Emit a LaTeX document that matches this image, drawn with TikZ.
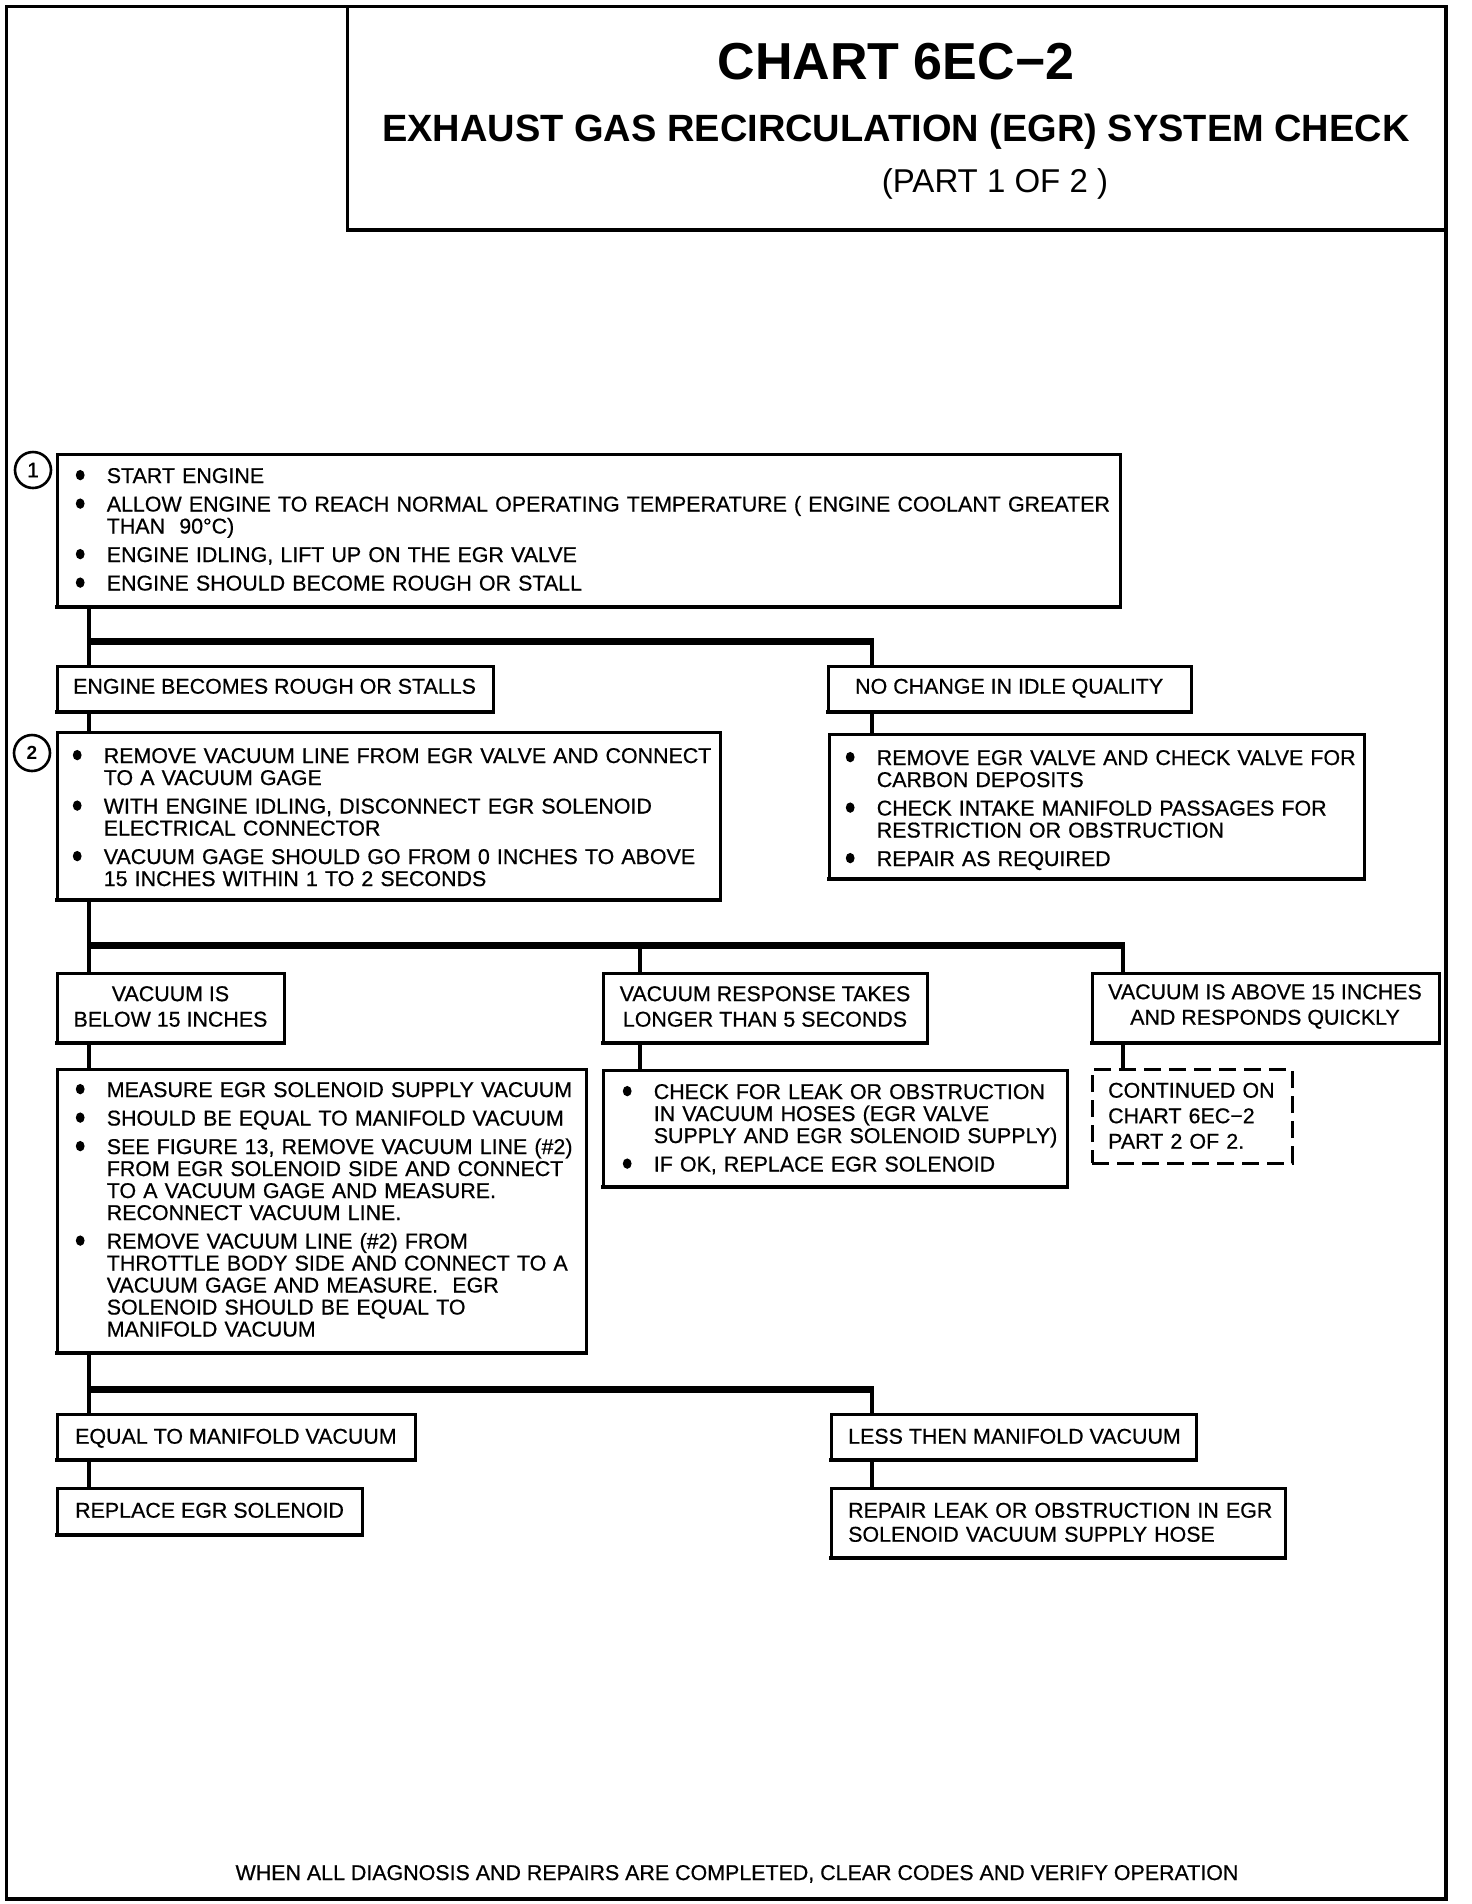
\documentclass[tikz,border=0pt]{standalone}
\usepackage{fontspec}
\setmainfont{Liberation Sans}
\newfontfamily\bodyf{Liberation Sans}[FakeBold=0.6]
\usetikzlibrary{calc}
\newlength\hangw
\setlength\hangw{31pt}
\newcommand\bul{\raisebox{2.7pt}{\tikz\fill (0,0) ellipse [x radius=4.4pt, y radius=5.2pt];}}
\newcommand\bitem[1]{\noindent\hangindent=\hangw\hangafter=1\makebox[\hangw][l]{\bul}#1\par}
\tikzset{
  box/.style={draw, line width=3pt, anchor=north west, inner sep=0pt, outer sep=0pt},
  dbox/.style={box, dash pattern=on 17pt off 8pt},
  vconn/.style={line width=4.5pt},
  bar/.style={line width=7pt},
  body/.style={inner sep=0pt, anchor=base west, align=left, text width=1100pt,
    font=\bodyf\fontsize{21.4}{22}\selectfont,
    execute at begin node={\setlength\parskip{6.5pt}}},
  lbl/.style={inner sep=0pt, anchor=base west, font=\bodyf\fontsize{21.4}{22}\selectfont},
  clbl/.style={inner sep=0pt, align=center, font=\bodyf\fontsize{21.4}{25.5}\selectfont},
  num/.style={circle, draw, line width=2.6pt, minimum size=36pt, inner sep=0pt, font=\bodyf\fontsize{21}{21}\selectfont}
}
\begin{document}
\begin{tikzpicture}[x=1pt, y=-1pt]
\useasboundingbox (0,0) rectangle (1472,1904);
\fill[white] (0,0) rectangle (1472,1904);
% frame
\draw[line width=3pt] (6,6) rectangle (1446,1899);
\draw[line width=4.5pt] (6,1899) -- (1446,1899) -- (1446,6);
% title box
\node[box, minimum width=1099pt, minimum height=224pt] (title) at (347,6) {};
\draw[line width=4pt] (title.south west) -- (title.south east);
\node[inner sep=0pt, anchor=base, font=\bfseries\fontsize{52}{52}\selectfont] (t1) at (896,79.6) {CHART 6EC−2};
\node[inner sep=0pt, anchor=base, font=\bfseries\fontsize{38}{38}\selectfont] (t2) at (896,141.6) {EXHAUST GAS RECIRCULATION (EGR) SYSTEM CHECK};
\node[inner sep=0pt, anchor=base, font=\fontsize{33}{33}\selectfont] (t3) at (995,192.8) {(PART 1 OF 2 )};

% column coordinates
\coordinate (cL) at (89,0);
\coordinate (cM) at (640,0);
\coordinate (cR) at (872,0);
\coordinate (cR2) at (1123,0);
\coordinate (bar1) at (0,641);
\coordinate (bar2) at (0,945);
\coordinate (bar3) at (0,1389);

% boxes
\node[box, minimum width=1063pt, minimum height=153pt] (b1) at (57,454) {};
\node[box, minimum width=436pt, minimum height=46pt] (b2a) at (57,666) {};
\node[box, minimum width=363pt, minimum height=46pt] (b2b) at (828,666) {};
\node[box, minimum width=663pt, minimum height=168pt] (b3) at (57,732) {};
\node[box, minimum width=535pt, minimum height=145pt] (b4) at (829,734) {};
\node[box, minimum width=227pt, minimum height=70pt] (b5a) at (57,973) {};
\node[box, minimum width=324pt, minimum height=70pt] (b5b) at (603,973) {};
\node[box, minimum width=347pt, minimum height=70pt] (b5c) at (1092,973) {};
\node[box, minimum width=529pt, minimum height=284pt] (b6) at (57,1069) {};
\node[box, minimum width=464pt, minimum height=117pt] (b7) at (603,1070) {};
\node[dbox, minimum width=200pt, minimum height=94pt] (b8) at (1092,1069) {};
\node[box, minimum width=358pt, minimum height=46pt] (b9a) at (57,1414) {};
\node[box, minimum width=365pt, minimum height=46pt] (b9b) at (831,1414) {};
\node[box, minimum width=305pt, minimum height=47pt] (b10a) at (57,1488) {};
\node[box, minimum width=454pt, minimum height=70pt] (b10b) at (831,1488) {};
\foreach \b in {b1,b2a,b2b,b3,b4,b5a,b5b,b5c,b6,b7,b9a,b9b,b10a,b10b}
  \draw[line width=4.5pt, line cap=rect] (\b.south west) -- (\b.south east);

% step numbers
\node[num] (n1) at (33,470) {1};
\node[num, font=\bfseries\fontsize{19}{19}\selectfont] (n2) at (32,753) {2};

% texts
\node[body] (x1) at (75.6,483) {%
\bitem{START ENGINE}
\bitem{ALLOW ENGINE TO REACH NORMAL OPERATING TEMPERATURE ( ENGINE COOLANT GREATER\newline THAN\ \ 90°C)}
\bitem{ENGINE IDLING, LIFT UP ON THE EGR VALVE}
\bitem{ENGINE SHOULD BECOME ROUGH OR STALL}};
\node[lbl] (x2a) at (73,693.7) {ENGINE BECOMES ROUGH OR STALLS};
\node[lbl] (x2b) at (855,693.7) {NO CHANGE IN IDLE QUALITY};
\node[body] (x3) at (72.6,763) {%
\bitem{REMOVE VACUUM LINE FROM EGR VALVE AND CONNECT\newline TO A VACUUM GAGE}
\bitem{WITH ENGINE IDLING, DISCONNECT EGR SOLENOID\newline ELECTRICAL CONNECTOR}
\bitem{VACUUM GAGE SHOULD GO FROM 0 INCHES TO ABOVE\newline 15 INCHES WITHIN 1 TO 2 SECONDS}};
\node[body] (x4) at (845.6,765) {%
\bitem{REMOVE EGR VALVE AND CHECK VALVE FOR\newline CARBON DEPOSITS}
\bitem{CHECK INTAKE MANIFOLD PASSAGES FOR\newline RESTRICTION OR OBSTRUCTION}
\bitem{REPAIR AS REQUIRED}};
\node[clbl] (x5a) at (170.5,1006.5) {VACUUM IS\\BELOW 15 INCHES};
\node[clbl] (x5b) at (765,1006.5) {VACUUM RESPONSE TAKES\\LONGER THAN 5 SECONDS};
\node[clbl] (x5c) at (1265,1006.5) {VACUUM IS ABOVE 15 INCHES\\AND RESPONDS QUICKLY};
\node[body] (x6) at (75.6,1097) {%
\bitem{MEASURE EGR SOLENOID SUPPLY VACUUM}
\bitem{SHOULD BE EQUAL TO MANIFOLD VACUUM}
\bitem{SEE FIGURE 13, REMOVE VACUUM LINE (\#2)\newline FROM EGR SOLENOID SIDE AND CONNECT\newline TO A VACUUM GAGE AND MEASURE.\newline RECONNECT VACUUM LINE.}
\bitem{REMOVE VACUUM LINE (\#2) FROM\newline THROTTLE BODY SIDE AND CONNECT TO A\newline VACUUM GAGE AND MEASURE.\ \ EGR\newline SOLENOID SHOULD BE EQUAL TO\newline MANIFOLD VACUUM}};
\node[body] (x7) at (622.6,1099) {%
\bitem{CHECK FOR LEAK OR OBSTRUCTION\newline IN VACUUM HOSES (EGR VALVE\newline SUPPLY AND EGR SOLENOID SUPPLY)}
\bitem{IF OK, REPLACE EGR SOLENOID}};
\node[body, font=\bodyf\fontsize{21.4}{25.5}\selectfont] (x8) at (1108,1097.7) {CONTINUED ON\newline CHART 6EC−2\newline PART 2 OF 2.};
\node[lbl] (x9a) at (75,1443.7) {EQUAL TO MANIFOLD VACUUM};
\node[lbl] (x9b) at (848,1443.7) {LESS THEN MANIFOLD VACUUM};
\node[lbl] (x10a) at (75,1517.7) {REPLACE EGR SOLENOID};
\node[body, font=\bodyf\fontsize{21.4}{24}\selectfont] (x10b) at (848,1517.7) {REPAIR LEAK OR OBSTRUCTION IN EGR\newline SOLENOID VACUUM SUPPLY HOSE};
\node[lbl, anchor=base] (foot) at (737,1880) {WHEN ALL DIAGNOSIS AND REPAIRS ARE COMPLETED, CLEAR CODES AND VERIFY OPERATION};

% connectors
\draw[vconn] (b1.south -| cL) -- (b2a.north -| cL);
\draw[bar] (cL |- bar1) -- ($(cR |- bar1)+(2,0)$);
\draw[vconn] (cR |- bar1) -- (b2b.north -| cR);
\draw[vconn] (b2a.south -| cL) -- (b3.north -| cL);
\draw[vconn] (b2b.south -| cR) -- (b4.north -| cR);
\draw[vconn] (b3.south -| cL) -- (b5a.north -| cL);
\draw[bar] (cL |- bar2) -- ($(cR2 |- bar2)+(2,0)$);
\draw[vconn] (cM |- bar2) -- (b5b.north -| cM);
\draw[vconn] (cR2 |- bar2) -- (b5c.north -| cR2);
\draw[vconn] (b5a.south -| cL) -- (b6.north -| cL);
\draw[vconn] (b5b.south -| cM) -- (b7.north -| cM);
\draw[vconn] (b5c.south -| cR2) -- (b8.north -| cR2);
\draw[vconn] (b6.south -| cL) -- (b9a.north -| cL);
\draw[bar] (cL |- bar3) -- ($(cR |- bar3)+(2,0)$);
\draw[vconn] (cR |- bar3) -- (b9b.north -| cR);
\draw[vconn] (b9a.south -| cL) -- (b10a.north -| cL);
\draw[vconn] (b9b.south -| cR) -- (b10b.north -| cR);
\end{tikzpicture}
\end{document}
